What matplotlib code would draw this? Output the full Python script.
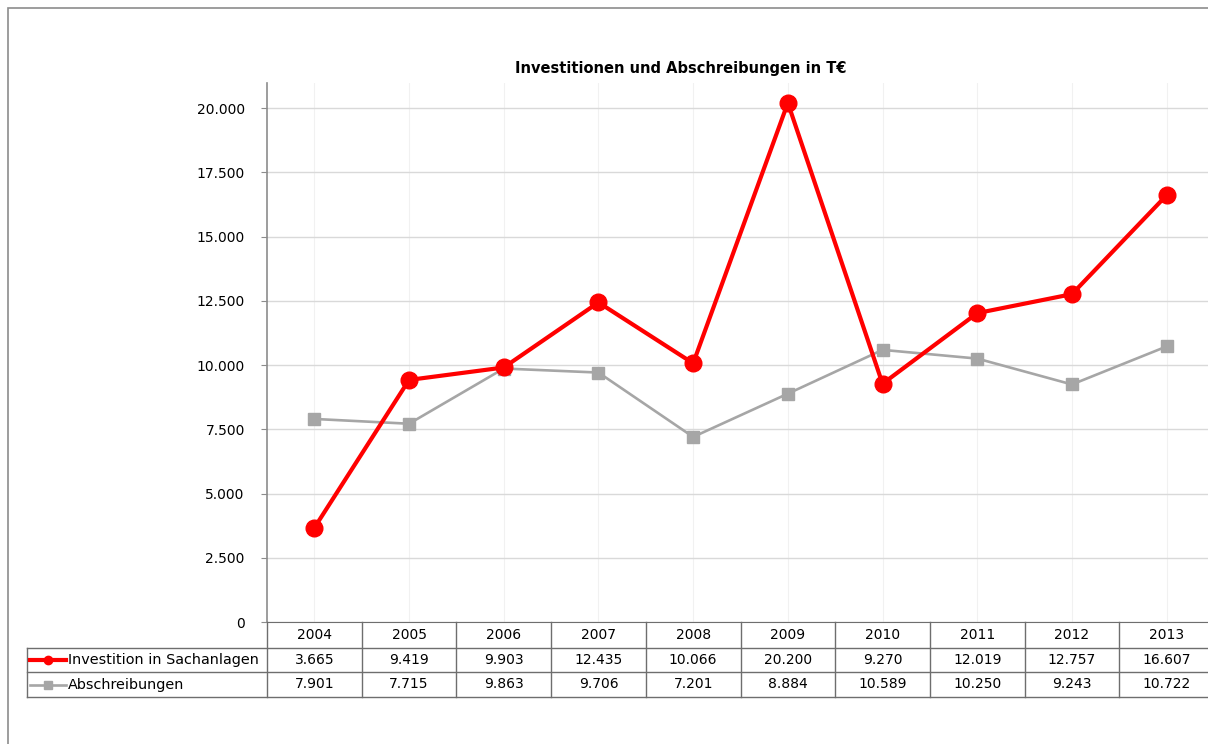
import matplotlib

matplotlib.use("Agg")
import matplotlib.pyplot as plt
from matplotlib.lines import Line2D
from matplotlib.patches import Rectangle
from matplotlib.ticker import FuncFormatter
from matplotlib.transforms import blended_transform_factory

years = ["2004", "2005", "2006", "2007", "2008", "2009", "2010", "2011", "2012", "2013"]
investitionen = [3665, 9419, 9903, 12435, 10066, 20200, 9270, 12019, 12757, 16607]
abschreibungen = [7901, 7715, 9863, 9706, 7201, 8884, 10589, 10250, 9243, 10722]
series_names = ["Investition in Sachanlagen", "Abschreibungen"]
y_ticks = [0, 2500, 5000, 7500, 10000, 12500, 15000, 17500, 20000]

W, H = 1208, 744
RED = "#ff0000"
GREY = "#a6a6a6"
LINE = "#6e6e6e"


def de_number(value, _pos=None):
    return f"{value:,.0f}".replace(",", ".")


def fx(px):
    return px / W


def fy(px):
    return 1 - px / H


plt.rcParams["font.family"] = ["DejaVu Sans"]
fig = plt.figure(figsize=(W / 100, H / 100), dpi=100)
fig.patch.set_facecolor("white")

# outer chart frame (right/bottom edges fall outside the picture)
fig.add_artist(Rectangle((fx(8), fy(1000)), 2, fy(8) - fy(1000), transform=fig.transFigure,
                         facecolor="none", edgecolor="#8c8c8c", linewidth=1.2))

ax = fig.add_axes([fx(267), fy(622), 947 / W, (622 - 83) / H])
x = list(range(len(years)))
ax.plot(x, investitionen, color=RED, linewidth=3.0, marker="o", markersize=12,
        markerfacecolor=RED, markeredgecolor=RED, zorder=4, clip_on=False)
ax.plot(x, abschreibungen, color=GREY, linewidth=1.9, marker="s", markersize=8.5,
        markerfacecolor=GREY, markeredgecolor=GREY, zorder=3, clip_on=False)

ax.set_xlim(-0.5, len(years) - 0.5)
ax.set_ylim(0, 20973)
ax.set_yticks(y_ticks)
ax.yaxis.set_major_formatter(FuncFormatter(de_number))
ax.set_xticks([])
ax.grid(axis="y", color="#d9d9d9", linewidth=1.0)
for xi in x:
    ax.axvline(xi, color="#f1f1f1", linewidth=0.8, zorder=0)
for side in ["top", "right"]:
    ax.spines[side].set_visible(False)
ax.spines["left"].set_color("#8c8c8c")
ax.spines["left"].set_linewidth(1.2)
ax.spines["bottom"].set_color(LINE)
ax.tick_params(axis="y", direction="out", length=4, color="#8c8c8c", labelsize=10, pad=12)

fig.text(fx(681), fy(68), "Investitionen und Abschreibungen in T€", ha="center", va="center",
         fontsize=10.5, fontweight="bold")

# data table under the axis
tr = blended_transform_factory(ax.transData, fig.transFigure)
row_top, row1, row2, row_bottom = 622, 648, 672, 697
for bx in [i - 0.5 for i in range(len(years) + 1)]:
    fig.add_artist(Line2D([bx, bx], [fy(row_top), fy(row_bottom)], transform=tr, color=LINE, linewidth=1))
for yy in [row1, row2, row_bottom]:
    fig.add_artist(Line2D([fx(27), 1.01], [fy(yy), fy(yy)], transform=fig.transFigure, color=LINE, linewidth=1))
fig.add_artist(Line2D([fx(27), fx(27)], [fy(row1), fy(row_bottom)], transform=fig.transFigure, color=LINE, linewidth=1))

for i, year in enumerate(years):
    fig.text(i, fy((row_top + row1) / 2), year, transform=tr, ha="center", va="center", fontsize=10)
    fig.text(i, fy((row1 + row2) / 2), de_number(investitionen[i]), transform=tr, ha="center", va="center", fontsize=10)
    fig.text(i, fy((row2 + row_bottom) / 2), de_number(abschreibungen[i]), transform=tr, ha="center", va="center", fontsize=10)

# legend keys in the table
for name, color, lw, marker, ms, yrow in [
    (series_names[0], RED, 3.0, "o", 6, (row1 + row2) / 2),
    (series_names[1], GREY, 1.9, "s", 5.5, (row2 + row_bottom) / 2),
]:
    fig.add_artist(Line2D([fx(30), fx(66)], [fy(yrow), fy(yrow)], transform=fig.transFigure,
                          color=color, linewidth=lw))
    fig.add_artist(Line2D([fx(48)], [fy(yrow)], transform=fig.transFigure, color=color,
                          marker=marker, markersize=ms, linestyle="none"))
    fig.text(fx(68), fy(yrow), name, ha="left", va="center", fontsize=10.4)

fig.savefig("out.png", dpi=100, facecolor="white")
